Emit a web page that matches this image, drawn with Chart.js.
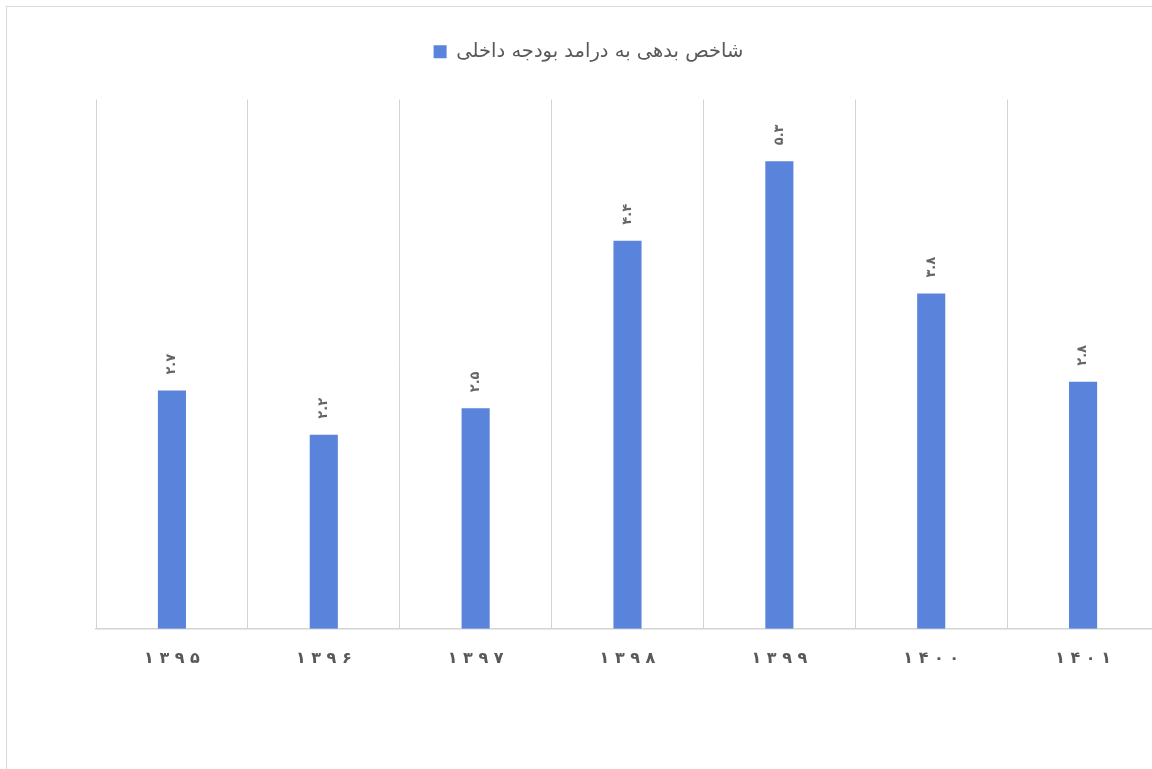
<!DOCTYPE html>
<html lang="fa">
<head>
<meta charset="UTF-8">
<title>شاخص بدهی به درامد بودجه داخلی</title>
<style>
    html, body { margin: 0; padding: 0; background: #fff; overflow: hidden; }
    .frame { position: absolute; left: 6px; top: 6px; width: 1180px; height: 800px; border: 1.5px solid #d9d9d9; }
    .chart-box { position: absolute; left: 0; top: 0; width: 1166px; height: 769px; }
</style>
</head>
<body>
<div class="frame"></div>
<div class="chart-box"><canvas id="debtChart"></canvas></div>

<script src="https://cdn.jsdelivr.net/npm/chart.js"></script>
<script>
    const years = ['۱۳۹۵', '۱۳۹۶', '۱۳۹۷', '۱۳۹۸', '۱۳۹۹', '۱۴۰۰', '۱۴۰۱'];
    const debtRatio = [2.7, 2.2, 2.5, 4.4, 5.3, 3.8, 2.8];
    const seriesName = 'شاخص بدهی به درامد بودجه داخلی';

    const faDigits = '۰۱۲۳۴۵۶۷۸۹';
    function toFa(v) {
        return String(v).replace(/\d/g, d => faDigits[d]);
    }

    const textGray = '#595959';
    const fontFamily = '"DejaVu Sans", "Noto Sans", sans-serif';

    // value labels above each bar, rotated like in the excel chart
    const barValueLabels = {
        id: 'barValueLabels',
        afterDatasetsDraw(chart) {
            const ctx = chart.ctx;
            const meta = chart.getDatasetMeta(0);
            ctx.save();
            ctx.fillStyle = '#666';
            ctx.font = 'bold 13px ' + fontFamily;
            ctx.textAlign = 'left';
            ctx.textBaseline = 'middle';
            meta.data.forEach((bar, i) => {
                ctx.save();
                ctx.translate(bar.x, bar.y - 16);
                ctx.rotate(-Math.PI / 2);
                ctx.fillText(toFa(debtRatio[i]), 0, 0);
                ctx.restore();
            });
            ctx.restore();
        }
    };

    // more room between the legend and the bars
    const legendGap = {
        id: 'legendGap',
        beforeInit(chart) {
            const fit = chart.legend.fit;
            chart.legend.fit = function () {
                fit.bind(chart.legend)();
                this.height += 28;
            };
        }
    };

    const ctx = document.getElementById('debtChart').getContext('2d');
    const debtChart = new Chart(ctx, {
        type: 'bar',
        data: {
            labels: years,
            datasets: [{
                label: seriesName,
                data: debtRatio,
                backgroundColor: '#5a83db',
                borderWidth: 0,
                categoryPercentage: 1,
                barPercentage: 0.185
            }]
        },
        options: {
            responsive: true,
            maintainAspectRatio: false,
            animation: false,
            layout: {
                padding: { left: 18, right: 7, top: 32, bottom: 81 }
            },
            plugins: {
                legend: {
                    position: 'top',
                    labels: {
                        color: textGray,
                        font: { family: fontFamily, size: 19.5 },
                        boxWidth: 13,
                        boxHeight: 13,
                        padding: 10
                    }
                },
                tooltip: { enabled: false }
            },
            scales: {
                x: {
                    grid: {
                        color: '#d4d4d4',
                        lineWidth: 1,
                        drawTicks: false,
                        offset: true
                    },
                    border: { color: '#d4d4d4', width: 1.5 },
                    ticks: {
                        color: textGray,
                        font: { family: fontFamily, size: 16, weight: 'bold' },
                        padding: 20,
                        maxRotation: 0,
                        callback: function (value, index) {
                            return years[index].split('').join(' ');
                        }
                    }
                },
                y: {
                    min: 0,
                    max: 6,
                    ticks: { display: false },
                    grid: { display: false },
                    border: { display: false },
                    afterFit: function (scale) {
                        scale.width = 78;
                    }
                }
            }
        },
        plugins: [barValueLabels, legendGap]
    });
</script>
</body>
</html>
